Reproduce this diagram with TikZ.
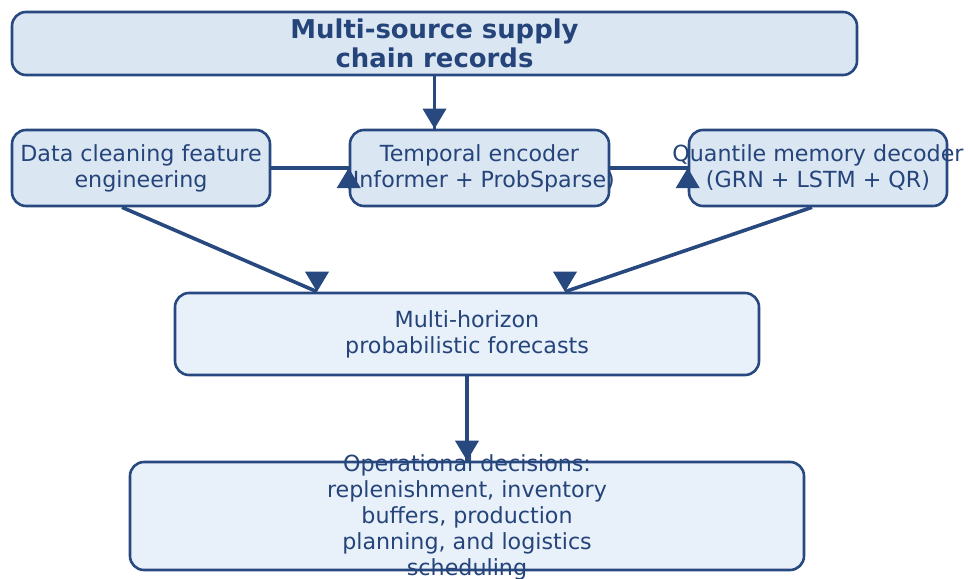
\documentclass[tikz,border=0pt]{standalone}
\usepackage{fontspec}
\setmainfont{DejaVu Sans}
\usetikzlibrary{calc}
\definecolor{edge}{RGB}{40,72,128}
\definecolor{ink}{RGB}{36,68,122}
\definecolor{fillA}{RGB}{219,230,243}
\definecolor{fillB}{RGB}{232,240,249}
\begin{document}
\begin{tikzpicture}[x=1pt,y=-1pt,
  box/.style={draw=edge, line width=2.6pt, rounded corners=14pt, inner sep=0pt},
  upper/.style={box, fill=fillA},
  lower/.style={box, fill=fillB},
  txt/.style={text=ink, align=center, inner sep=0pt, font=\fontsize{22.2}{26}\selectfont},
  ttl/.style={text=ink, align=center, inner sep=0pt, font=\fontsize{25.9}{29}\selectfont\bfseries},
  link/.style={draw=edge, line width=3.6pt},
]
\useasboundingbox (0,0) rectangle (968,578);

% boxes
\node[upper, minimum width=845pt, minimum height=63pt] (src) at (434.5,43.5) {};
\node[upper, minimum width=258pt, minimum height=76pt] (clean) at (141,168) {};
\node[upper, minimum width=259pt, minimum height=76pt] (enc) at (479.5,168) {};
\node[upper, minimum width=258pt, minimum height=76pt] (dec) at (818,168) {};
\node[lower, minimum width=584pt, minimum height=82pt] (fc) at (467,334) {};
\node[lower, minimum width=674pt, minimum height=108pt] (ops) at (467,516) {};

% labels
\node[ttl] (src-t) at (src) {Multi-source supply\\chain records};
\node[txt] (clean-t) at (clean) {Data cleaning feature\\engineering};
\node[txt] (enc-t) at (enc) {Temporal encoder\\(Informer + ProbSparse)};
\node[txt] (dec-t) at (dec) {Quantile memory decoder\\(GRN + LSTM + QR)};
\node[txt] (fc-t) at (fc) {Multi-horizon\\probabilistic forecasts};
\node[txt] (ops-t) at ($(ops)+(0,1)$) {Operational decisions:\\replenishment, inventory\\buffers, production\\planning, and logistics\\scheduling};

% connector end points
\coordinate (enc-top) at (src.south |- enc.north);
\coordinate (clean-out) at ($(clean.south)+(-19,0)$);
\coordinate (dec-out) at ($(dec.south)+(-6,0)$);
\coordinate (fc-l) at ($(fc.north)+(-150,0)$);
\coordinate (fc-r) at ($(fc.north)+(98,0)$);

% connectors
\draw[link] (src.south) -- (enc-top);
\draw[link] (clean.east) -- (enc.west);
\draw[link] (enc.east) -- (dec.west);
\draw[link] (clean-out) -- (fc-l);
\draw[link] (dec-out) -- (fc-r);
\draw[link] (fc.south) -- (ops.north);

% arrow heads
\fill[edge] (enc-top) -- ++(-12,-20) -- ++(24,0) -- cycle;
\fill[edge] (enc.west) -- ++(-12,20) -- ++(24,0) -- cycle;
\fill[edge] (dec.west) -- ++(-12,20) -- ++(24,0) -- cycle;
\fill[edge] (fc-l) -- ++(-12,-20) -- ++(24,0) -- cycle;
\fill[edge] (fc-r) -- ++(-12,-20) -- ++(24,0) -- cycle;
\fill[edge] (ops.north) -- ++(-12,-20) -- ++(24,0) -- cycle;
\end{tikzpicture}
\end{document}
